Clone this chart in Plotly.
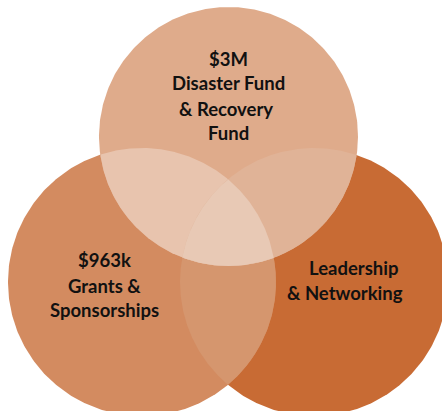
import numpy as np
import plotly.graph_objects as go

# Circle data (center x, center y, radius) in pixel-like units
circle_names = ["Top", "Left", "Right"]
circle_cx = [228.5, 142.0, 314.0]
circle_cy = [136.5, 282.0, 282.0]
circle_r = [129.5, 134.0, 134.0]

# Region colours
col_top = "#DFAB8B"
col_left = "#D38B60"
col_right = "#C86B34"
col_tl = "#E8C4AE"
col_tr = "#E0B397"
col_lr = "#D5966E"
col_all = "#E8C9B5"

# Labels
label_lines = [
    ["$3M", "Disaster Fund", "& Recovery ", "Fund"],
    ["$963k", "Grants &", "Sponsorships"],
    ["Leadership", "& Networking"],
]
label_x = [
    [228, 228, 228, 228],
    [104, 104, 104],
    [353, 345],
]
label_y = [
    [59, 83, 109, 133],
    [260, 286, 310],
    [268, 293],
]

W, H = 442, 411


def circle_pts(i, n=400):
    t = np.linspace(0, 2 * np.pi, n)
    return circle_cx[i] + circle_r[i] * np.cos(t), circle_cy[i] + circle_r[i] * np.sin(t)


def inside(x, y, i):
    return (x - circle_cx[i]) ** 2 + (y - circle_cy[i]) ** 2 <= circle_r[i] ** 2 + 1e-6


def intersection(ids, n=1500):
    xs, ys = [], []
    for i in ids:
        x, y = circle_pts(i, n)
        m = np.ones_like(x, dtype=bool)
        for j in ids:
            if j != i:
                m &= inside(x, y, j)
        xs.append(x[m])
        ys.append(y[m])
    x = np.concatenate(xs)
    y = np.concatenate(ys)
    cx, cy = x.mean(), y.mean()
    order = np.argsort(np.arctan2(y - cy, x - cx))
    x, y = x[order], y[order]
    return np.append(x, x[0]), np.append(y, y[0])


fig = go.Figure()


def add_region(x, y, color):
    fig.add_trace(go.Scatter(x=x, y=y, fill="toself", fillcolor=color,
                             mode="lines", line=dict(width=0, color=color),
                             hoverinfo="skip", showlegend=False))


add_region(*circle_pts(2), col_right)
add_region(*circle_pts(1), col_left)
add_region(*intersection([1, 2]), col_lr)
add_region(*circle_pts(0), col_top)
add_region(*intersection([0, 1]), col_tl)
add_region(*intersection([0, 2]), col_tr)
add_region(*intersection([0, 1, 2]), col_all)

for lines, xs, ys in zip(label_lines, label_x, label_y):
    for t, x, y in zip(lines, xs, ys):
        fig.add_annotation(x=x, y=y, text="<b>" + t + "</b>", showarrow=False,
                           xanchor="center", yanchor="middle",
                           font=dict(family="Lato", size=18.5, color="#111111"))

fig.update_layout(
    width=W, height=H,
    margin=dict(l=0, r=0, t=0, b=0),
    paper_bgcolor="white", plot_bgcolor="white",
    xaxis=dict(range=[0, W], visible=False, fixedrange=True),
    yaxis=dict(range=[H, 0], visible=False, fixedrange=True),
)

fig.write_html(
    "out.html",
    config={"displayModeBar": False},
    post_script="document.body.style.margin='0';document.body.style.overflow='hidden';",
)
